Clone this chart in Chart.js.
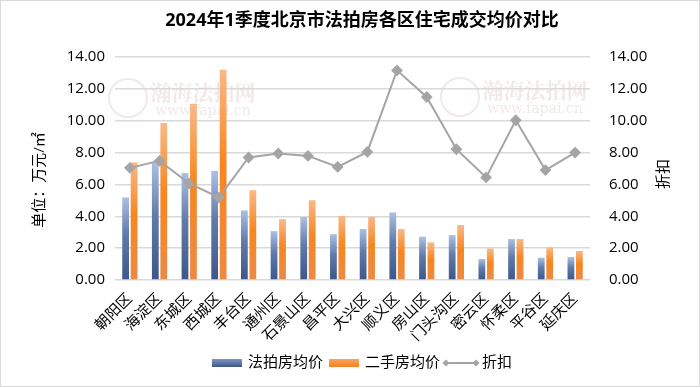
<!DOCTYPE html>
<html>
<head>
<meta charset="utf-8">
<script src="https://cdn.jsdelivr.net/npm/chart.js@4/dist/chart.umd.min.js"></script>
<style>
  html, body { margin: 0; padding: 0; background: #fff; }
  #wrap { width: 700px; height: 388px; }
</style>
</head>
<body>
<div id="wrap"><canvas id="priceChart" width="700" height="388"></canvas></div>
<script>
// 各区名称
const districts = ['朝阳区', '海淀区', '东城区', '西城区', '丰台区', '通州区', '石景山区', '昌平区',
    '大兴区', '顺义区', '房山区', '门头沟区', '密云区', '怀柔区', '平谷区', '延庆区'];
// 法拍房均价（万元/㎡）
const auctionPrice = [5.18, 7.35, 6.71, 6.85, 4.37, 3.07, 3.95, 2.88, 3.20, 4.24, 2.72, 2.82, 1.32, 2.57, 1.40, 1.44];
// 二手房均价（万元/㎡）
const resalePrice = [7.38, 9.86, 11.07, 13.20, 5.64, 3.82, 5.01, 4.03, 3.97, 3.20, 2.36, 3.45, 1.98, 2.57, 2.05, 1.82];
// 折扣
const discount = [7.04, 7.48, 6.06, 5.18, 7.69, 7.94, 7.79, 7.10, 8.04, 13.16, 11.49, 8.21, 6.44, 10.03, 6.90, 8.00];

const axisMax = 14;
const axisStep = 2;

const FONT = '"Open Sans", "Noto Sans CJK SC", sans-serif';
const BLUE_STOPS = [[0, '#abc0e4'], [0.45, '#607aa9'], [1, '#3d578a']];
const ORANGE_STOPS = [[0, '#f9b987'], [0.45, '#f7861f'], [1, '#ec8a45']];

// 每根柱子自上而下的渐变
function barFill(stops) {
    return function (ctx) {
        const chart = ctx.chart;
        const ys = chart.scales.y;
        const fallback = stops[1][1];
        if (!ys || ctx.type !== 'data' || ctx.raw == null) return fallback;
        const top = ys.getPixelForValue(ctx.raw);
        const base = ys.getPixelForValue(0);
        if (!isFinite(top) || !isFinite(base) || top === base) return fallback;
        const g = chart.ctx.createLinearGradient(0, top, 0, base);
        stops.forEach(s => g.addColorStop(s[0], s[1]));
        return g;
    };
}

const decorPlugin = {
    id: 'decor',
    beforeDraw(chart) {
        const c = chart.ctx;
        c.save();
        // 水印
        c.fillStyle = 'rgba(190, 150, 150, 0.22)';
        c.strokeStyle = 'rgba(190, 150, 150, 0.22)';
        c.textAlign = 'center';
        c.textBaseline = 'middle';
        [[203, 92, 128, 98], [535, 90, 460, 97]].forEach(p => {
            c.font = 'bold 21px "Noto Serif CJK SC", "Noto Sans CJK SC", serif';
            c.fillText('瀚海法拍网', p[0], p[1]);
            c.font = '14px "DejaVu Serif", serif';
            c.fillText('www.fapai.cn', p[0], p[1] + 19);
            c.lineWidth = 2;
            c.beginPath();
            c.arc(p[2], p[3], 19, 0, Math.PI * 2);
            c.stroke();
        });
        c.restore();
    },
    afterDraw(chart) {
        const c = chart.ctx;
        c.save();
        // 外框
        c.strokeStyle = '#d9d9d9';
        c.lineWidth = 1;
        c.strokeRect(0.5, 0.5, 699, 386);

        // 标题
        c.fillStyle = '#000';
        c.textAlign = 'center';
        c.textBaseline = 'middle';
        c.font = 'bold 18px ' + FONT;
        c.fillText('2024年1季度北京市法拍房各区住宅成交均价对比', 362, 21);

        // 坐标轴标题
        c.font = '15px ' + FONT;
        c.save();
        c.translate(40, 180);
        c.rotate(-Math.PI / 2);
        c.fillText('单位：万元/㎡', 0, 0);
        c.restore();
        c.save();
        c.translate(664, 174);
        c.rotate(-Math.PI / 2);
        c.fillText('折扣', 0, 0);
        c.restore();

        // 图例
        const ly = 363;
        c.textAlign = 'left';
        let g = c.createLinearGradient(0, ly - 4, 0, ly + 4);
        g.addColorStop(0, '#7f96c2'); g.addColorStop(1, '#3d578a');
        c.fillStyle = g;
        c.fillRect(212, ly - 4, 30, 8);
        c.fillStyle = '#000';
        c.fillText('法拍房均价', 248, ly);
        g = c.createLinearGradient(0, ly - 4, 0, ly + 4);
        g.addColorStop(0, '#f9a560'); g.addColorStop(1, '#f58220');
        c.fillStyle = g;
        c.fillRect(329, ly - 4, 30, 8);
        c.fillStyle = '#000';
        c.fillText('二手房均价', 365, ly);
        c.strokeStyle = '#a5a5a5';
        c.lineWidth = 2;
        c.beginPath();
        c.moveTo(446, ly); c.lineTo(476, ly);
        c.stroke();
        c.fillStyle = '#a5a5a5';
        [446, 476].forEach(x => {
            c.beginPath();
            c.moveTo(x, ly - 3.5); c.lineTo(x + 3.5, ly); c.lineTo(x, ly + 3.5); c.lineTo(x - 3.5, ly);
            c.closePath();
            c.fill();
        });
        c.fillStyle = '#000';
        c.fillText('折扣', 482, ly);
        c.restore();
    }
};

const tickFmt = v => Number(v).toFixed(2);

new Chart(document.getElementById('priceChart').getContext('2d'), {
    data: {
        labels: districts,
        datasets: [
            {
                type: 'line',
                label: '折扣',
                data: discount,
                yAxisID: 'y1',
                borderColor: '#a5a5a5',
                borderWidth: 2,
                pointStyle: 'rectRot',
                pointRadius: 4.5,
                pointBackgroundColor: '#a5a5a5',
                pointBorderColor: '#a5a5a5',
                tension: 0,
                order: 0
            },
            {
                type: 'bar',
                label: '法拍房均价',
                data: auctionPrice,
                yAxisID: 'y',
                backgroundColor: barFill(BLUE_STOPS),
                categoryPercentage: 0.57,
                barPercentage: 0.8,
                order: 1
            },
            {
                type: 'bar',
                label: '二手房均价',
                data: resalePrice,
                yAxisID: 'y',
                backgroundColor: barFill(ORANGE_STOPS),
                categoryPercentage: 0.57,
                barPercentage: 0.8,
                order: 1
            }
        ]
    },
    options: {
        responsive: false,
        animation: false,
        layout: { padding: { top: 57, bottom: 38, left: 0, right: 0 } },
        plugins: {
            legend: { display: false },
            title: { display: false },
            tooltip: { enabled: false }
        },
        scales: {
            x: {
                grid: { display: false },
                border: { display: false },
                ticks: {
                    color: '#000',
                    font: { family: FONT, size: 15 },
                    minRotation: 45,
                    maxRotation: 45,
                    autoSkip: false,
                    padding: 2
                },
                afterFit: s => { s.height = 70; }
            },
            y: {
                position: 'left',
                min: 0,
                max: axisMax,
                grid: { color: '#d9d9d9', lineWidth: 1.5, drawTicks: false },
                border: { display: false },
                ticks: {
                    stepSize: axisStep,
                    color: '#000',
                    font: { family: FONT, size: 15 },
                    padding: 10,
                    callback: tickFmt
                },
                afterFit: s => { s.width = 115; }
            },
            y1: {
                position: 'right',
                min: 0,
                max: axisMax,
                grid: { display: false },
                border: { display: false },
                ticks: {
                    stepSize: axisStep,
                    color: '#000',
                    font: { family: FONT, size: 15 },
                    padding: 11,
                    callback: tickFmt
                },
                afterFit: s => { s.width = 110; }
            }
        }
    },
    plugins: [decorPlugin]
});
</script>
</body>
</html>
